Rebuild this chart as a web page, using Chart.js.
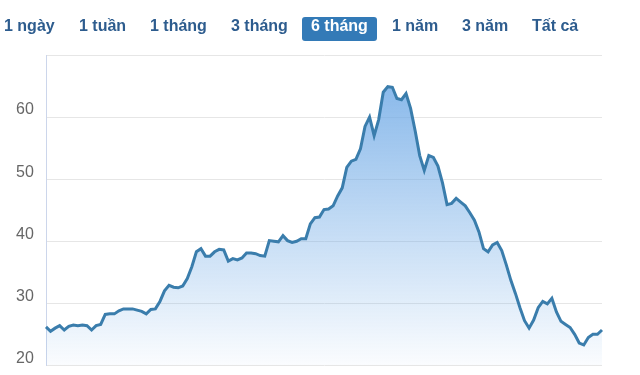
<!DOCTYPE html>
<html>
<head>
<meta charset="utf-8">
<script src="https://cdn.jsdelivr.net/npm/chart.js@4"></script>
<style>
  html, body { margin: 0; padding: 0; background: #fff; }
  #wrap { position: relative; width: 640px; height: 375px; overflow: hidden; }
  #chart-area { position: absolute; left: 0; top: 0; }
  .range-btn {
    position: absolute; top: 17px; height: 24px; line-height: 24px;
    font: bold 16px "Liberation Sans", Arial, sans-serif; color: #2d5c8e;
    white-space: nowrap;
  }
  .range-btn.active {
    background: #337ab7; color: #fff; border-radius: 3px;
    padding: 0 9px; margin-left: -9px;
  }
</style>
</head>
<body>
<div id="wrap">
  <canvas id="chart-area" width="640" height="375"></canvas>
  <div id="buttons"></div>
</div>
<script>
// range buttons shown above the chart
const rangeLabels = ['1 ngày', '1 tuần', '1 tháng', '3 tháng', '6 tháng', '1 năm', '3 năm', 'Tất cả'];
const rangeLeft = [4, 79, 150, 231, 311, 392, 462, 532];
const activeRange = '6 tháng';

// price series, 6 months of sessions
const prices = [
  26.2, 25.5, 26.0, 26.4, 25.7, 26.3, 26.5, 26.4, 26.5, 26.4,
  25.7, 26.4, 26.6, 28.2, 28.3, 28.3, 28.8, 29.1, 29.1, 29.1,
  28.9, 28.7, 28.3, 29.0, 29.1, 30.3, 32.0, 32.9, 32.6, 32.5,
  32.8, 34.0, 35.9, 38.3, 38.8, 37.6, 37.6, 38.3, 38.7, 38.6,
  36.8, 37.2, 37.0, 37.3, 38.1, 38.1, 38.0, 37.7, 37.6, 40.1,
  40.0, 39.9, 40.9, 40.1, 39.8, 40.0, 40.4, 40.4, 42.8, 43.8,
  43.9, 45.1, 45.2, 45.7, 47.3, 48.6, 51.9, 52.9, 53.2, 54.9,
  58.5, 60.0, 57.0, 59.6, 64.0, 64.9, 64.8, 63.0, 62.8, 63.8,
  61.4, 57.8, 53.8, 51.4, 53.8, 53.5, 52.1, 49.4, 45.9, 46.1,
  46.9, 46.3, 45.7, 44.6, 43.4, 41.5, 38.8, 38.3, 39.4, 39.8,
  38.5, 36.2, 33.7, 31.6, 29.3, 27.2, 26.0, 27.3, 29.3, 30.3,
  29.9, 30.8, 28.6, 27.1, 26.6, 26.1, 25.0, 23.6, 23.3, 24.5,
  25.0, 25.0, 25.7
];
const sessions = prices.map((p, i) => i + 1);
const yTicks = [20, 30, 40, 50, 60, 70];

let btnBox = document.getElementById('buttons');
rangeLabels.forEach((txt, i) => {
    let b = document.createElement('div');
    b.className = 'range-btn' + (txt === activeRange ? ' active' : '');
    b.style.left = rangeLeft[i] + 'px';
    b.textContent = txt;
    btnBox.appendChild(b);
});

let ctx = document.getElementById('chart-area').getContext('2d');

new Chart(ctx, {
    type: 'line',
    data: {
        labels: sessions,
        datasets: [{
            data: prices,
            borderColor: '#3a7dac',
            borderWidth: 3,
            pointRadius: 0,
            tension: 0,
            fill: 'start',
            backgroundColor: function(c) {
                let area = c.chart.chartArea;
                if (!area) return 'rgba(124,178,232,0.5)';
                let g = c.chart.ctx.createLinearGradient(0, area.top, 0, area.bottom);
                g.addColorStop(0, 'rgba(112,170,230,0.9)');
                g.addColorStop(1, 'rgba(112,170,230,0.03)');
                return g;
            }
        }]
    },
    options: {
        responsive: false,
        animation: false,
        layout: { padding: { left: 16, right: 38, top: 55, bottom: 9 } },
        plugins: { legend: { display: false }, tooltip: { enabled: false } },
        scales: {
            x: { display: false },
            y: {
                min: yTicks[0],
                max: yTicks[yTicks.length - 1],
                afterBuildTicks: function(scale) {
                    scale.ticks = yTicks.map(v => ({ value: v }));
                },
                afterFit: function(scale) { scale.width = 30; },
                border: { display: true, color: '#ccd6eb', width: 1 },
                grid: { color: '#e6e6e6', lineWidth: 1, drawTicks: false },
                ticks: {
                    padding: 0,
                    crossAlign: 'far',
                    labelOffset: -7,
                    color: '#666666',
                    font: { family: 'Liberation Sans', size: 16 },
                    callback: v => (v === 70 ? '' : v)
                }
            }
        }
    }
});
</script>
</body>
</html>
